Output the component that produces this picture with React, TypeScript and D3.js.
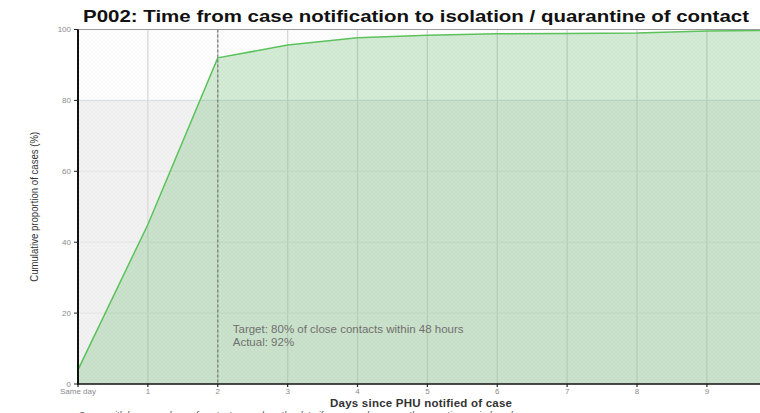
import React from "react";
import * as d3 from "d3";

// days since PHU notified -> cumulative % of cases
const days = [0, 1, 2, 3, 4, 5, 6, 7, 8, 9, 10];
const cumPct = [4, 45, 92, 95.6, 97.7, 98.4, 98.8, 98.9, 99.0, 99.6, 99.8];
const dayLabels = ["Same day", "1", "2", "3", "4", "5", "6", "7", "8", "9"];
const yTicks = [0, 20, 40, 60, 80, 100];
const target = 80;
const targetDay = 2;
const actual = 92;

const W = 760;
const H = 413;
const margin = { top: 29.5, right: 0, bottom: 29, left: 78 };

const App = () => {
  const x = d3.scaleLinear().domain([0, 9.76]).range([margin.left, W - margin.right]);
  const y = d3.scaleLinear().domain([0, 100]).range([H - margin.bottom, margin.top]);

  const pts = days.map((d, i) => [d, cumPct[i]] as [number, number]);
  const area = d3
    .area<[number, number]>()
    .x((d) => x(d[0]))
    .y0(y(0))
    .y1((d) => y(d[1]));
  const line = d3
    .line<[number, number]>()
    .x((d) => x(d[0]))
    .y((d) => y(d[1]));

  const x0 = margin.left;
  const x1 = W;

  return (
    <svg
      width={W}
      height={H}
      style={{ position: "absolute", left: 0, top: 0, fontFamily: "Arial, Liberation Sans, sans-serif" }}
    >
      <defs>
        <clipPath id="panel">
          <rect x={x0} y={y(100)} width={x1 - x0} height={y(0) - y(100)} />
        </clipPath>
        <pattern id="hatch" width="4" height="4" patternUnits="userSpaceOnUse">
          <path d="M0,4 L4,0" stroke="#000" strokeOpacity="0.025" strokeWidth="1" />
          <path d="M0,0 L4,4" stroke="#000" strokeOpacity="0.025" strokeWidth="1" />
        </pattern>
      </defs>

      <rect width={W} height={H} fill="#fff" />

      <g clipPath="url(#panel)">
        {/* target zone */}
        <rect x={x0} y={y(target)} width={x1 - x0} height={y(0) - y(target)} fill="#f3f3f3" />

        {/* grid */}
        {d3.range(1, 10).map((d) => (
          <line key={"v" + d} x1={x(d)} x2={x(d)} y1={y(100)} y2={y(0)} stroke="#dadada" strokeWidth={1.3} />
        ))}
        {[20, 40, 60].map((v) => (
          <line key={"h" + v} x1={x0} x2={x1} y1={y(v)} y2={y(v)} stroke="#e6e6e6" strokeWidth={1} />
        ))}
        <line x1={x0} x2={x1} y1={y(target)} y2={y(target)} stroke="#d3e0e6" strokeWidth={1} />

        <path d={area(pts) ?? ""} fill="#4caf50" fillOpacity={0.24} />
        <rect x={x0} y={y(100)} width={x1 - x0} height={y(0) - y(100)} fill="url(#hatch)" />
        <path d={line(pts) ?? ""} fill="none" stroke="#5cc25c" strokeWidth={1.5} />

        <line
          x1={x(targetDay)}
          x2={x(targetDay)}
          y1={y(100)}
          y2={y(0)}
          stroke="#808080"
          strokeWidth={1.3}
          strokeDasharray="3,2"
        />
      </g>

      {/* top border */}
      <line x1={x0} x2={x1} y1={y(100)} y2={y(100)} stroke="#9a9a9a" strokeWidth={1} />

      {/* axes */}
      <line x1={x0} x2={x0} y1={y(100)} y2={y(0) + 1} stroke="#111" strokeWidth={2} />
      <line x1={x0} x2={x1} y1={y(0)} y2={y(0)} stroke="#111" strokeWidth={1.5} />
      {yTicks.map((v) => (
        <g key={"yt" + v}>
          <line x1={x0 - 4} x2={x0} y1={y(v)} y2={y(v)} stroke="#222" strokeWidth={1} />
          <text x={x0 - 7} y={y(v) + 2.5} fontSize={8} fill="#8a8a8a" textAnchor="end">
            {v}
          </text>
        </g>
      ))}
      {dayLabels.map((lab, i) => (
        <g key={"xt" + i}>
          <line x1={x(i)} x2={x(i)} y1={y(0)} y2={y(0) + 3} stroke="#222" strokeWidth={1.2} />
          <text x={x(i)} y={y(0) + 10} fontSize={8} fill="#8a8a8a" textAnchor="middle">
            {lab}
          </text>
        </g>
      ))}

      {/* annotation */}
      <text x={x(targetDay) + 15} y={y(14.5)} fontSize={11.5} fill="#707070">
        Target: {target}% of close contacts within 48 hours
      </text>
      <text x={x(targetDay) + 15} y={y(10.8)} fontSize={11.5} fill="#707070">
        Actual: {actual}%
      </text>

      {/* titles */}
      <text
        x={83}
        y={22}
        fontSize={17}
        fontWeight="bold"
        fill="#111"
        textLength={666}
        lengthAdjust="spacingAndGlyphs"
      >
        P002: Time from case notification to isolation / quarantine of contact
      </text>
      <text
        transform={`translate(38,${(y(0) + y(100)) / 2}) rotate(-90)`}
        fontSize={10}
        fill="#333"
        textAnchor="middle"
        textLength={150}
        lengthAdjust="spacingAndGlyphs"
      >
        Cumulative proportion of cases (%)
      </text>
      <text x={330} y={407} fontSize={11.5} fontWeight="bold" fill="#333" textLength={182} lengthAdjust="spacing">
        Days since PHU notified of case
      </text>
      <text x={78} y={417.5} fontSize={9.5} fontStyle="italic" fill="#555">
        Cases with large numbers of contacts can skew the data if case numbers over the reporting period are low.
      </text>
    </svg>
  );
};

export default App;
